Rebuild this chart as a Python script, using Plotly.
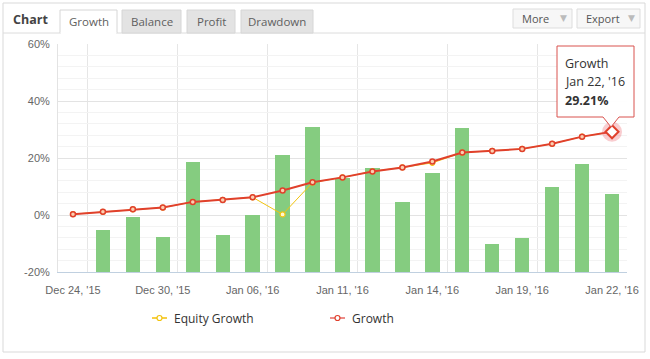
import plotly.graph_objects as go

# ---------------- data ----------------
dates = ["Dec 24, '15", "Dec 28, '15", "Dec 29, '15", "Dec 30, '15", "Jan 04, '16",
         "Jan 05, '16", "Jan 06, '16", "Jan 07, '16", "Jan 08, '16", "Jan 11, '16",
         "Jan 12, '16", "Jan 13, '16", "Jan 14, '16", "Jan 15, '16", "Jan 18, '16",
         "Jan 19, '16", "Jan 20, '16", "Jan 21, '16", "Jan 22, '16"]
growth = [0.3, 1.1, 2.0, 2.6, 4.6, 5.3, 6.2, 8.6, 11.5, 13.2, 15.3, 16.7,
          18.8, 21.9, 22.5, 23.2, 25.0, 27.5, 29.21]
equity_growth = [0.3, 1.1, 2.0, 2.6, 4.6, 5.3, 6.2, 0.2, 11.4, 13.2, 15.3, 16.7,
                 18.3, 21.9, 22.5, 23.2, 25.0, 27.5, 29.21]
bar_dates = dates[1:]
bar_values = [-5.4, -0.8, -7.8, 18.5, -7.1, 0.1, 20.9, 30.8, 12.9, 16.4, 4.5,
              14.6, 30.4, -10.3, -8.2, 9.7, 17.8, 7.3]
tick_labels = ["Dec 24, '15", "Dec 30, '15", "Jan 06, '16", "Jan 11, '16",
               "Jan 14, '16", "Jan 19, '16", "Jan 22, '16"]
y_ticks = [-20, 0, 20, 40, 60]

BAR_BASE = -20
W, H = 650, 359
L, R, T, B = 58, 23, 44, 87
PW, PH = W - L - R, H - T - B

def px(x):
    return (x - L) / PW

def py(y):
    return (H - B - y) / PH

xi = {d: i for i, d in enumerate(dates)}

fig = go.Figure()

fig.add_trace(go.Bar(
    x=[xi[d] for d in bar_dates], y=[v - BAR_BASE for v in bar_values], base=BAR_BASE,
    width=0.48, marker=dict(color="#85cc80", line=dict(width=0)),
    showlegend=False, hoverinfo="skip"))

fig.add_trace(go.Scatter(
    x=[xi[d] for d in dates], y=equity_growth, mode="lines+markers",
    line=dict(color="#f2c40f", width=1),
    marker=dict(size=5, color="#fff7d0", line=dict(color="#f2c40f", width=1.2)),
    name="Equity Growth", showlegend=False, hoverinfo="skip"))

fig.add_trace(go.Scatter(
    x=[xi[d] for d in dates], y=growth, mode="lines+markers",
    line=dict(color="#e0402c", width=2),
    marker=dict(size=5, color="#fbd0b0", line=dict(color="#e0402c", width=1.5)),
    name="Growth", showlegend=False, hoverinfo="skip"))

# highlighted last point (halo + diamond)
fig.add_trace(go.Scatter(
    x=[xi[dates[-1]]], y=[growth[-1]], mode="markers",
    marker=dict(size=20, color="rgba(235,90,100,0.30)"),
    showlegend=False, hoverinfo="skip"))
fig.add_trace(go.Scatter(
    x=[xi[dates[-1]]], y=[growth[-1]], mode="markers",
    marker=dict(symbol="diamond", size=10, color="white", line=dict(color="#e0402c", width=2)),
    showlegend=False, hoverinfo="skip"))

shapes = []
annotations = []

# outer frame
shapes.append(dict(type="rect", xref="paper", yref="paper", x0=px(3), x1=px(645), y0=py(3), y1=py(352),
                   line=dict(color="#d9d9d9", width=1), fillcolor="rgba(0,0,0,0)", layer="below"))
# line under tabs
shapes.append(dict(type="line", xref="paper", yref="paper", x0=px(3), x1=px(645), y0=py(33), y1=py(33),
                   line=dict(color="#dcdcdc", width=1)))

# tabs
tabs = [("Growth", 60, 117, True), ("Balance", 122, 181, False),
        ("Profit", 187, 235, False), ("Drawdown", 241, 313, False)]
for name, x0, x1, active in tabs:
    shapes.append(dict(type="rect", xref="paper", yref="paper", x0=px(x0), x1=px(x1), y0=py(10), y1=py(33),
                       line=dict(color="#d6d6d6", width=1),
                       fillcolor="#ffffff" if active else "#e3e3e3"))
    if active:
        shapes.append(dict(type="line", xref="paper", yref="paper", x0=px(x0 + 0.5), x1=px(x1 - 0.5),
                           y0=py(33), y1=py(33), line=dict(color="#ffffff", width=2)))
    annotations.append(dict(xref="paper", yref="paper", x=px((x0 + x1) / 2), y=py(21.5), text=name,
                            showarrow=False, xanchor="center", yanchor="middle",
                            font=dict(family="Open Sans, DejaVu Sans", size=11.5, color="#606060")))
annotations.append(dict(xref="paper", yref="paper", x=px(11), y=py(19.5), text="<b>Chart</b>",
                        showarrow=False, xanchor="left", yanchor="middle",
                        font=dict(family="Open Sans, DejaVu Sans", size=12.5, color="#444444")))

# buttons
for name, x0, x1 in [("More", 513, 572), ("Export", 577, 640)]:
    shapes.append(dict(type="rect", xref="paper", yref="paper", x0=px(x0), x1=px(x1), y0=py(9), y1=py(28),
                       line=dict(color="#dddddd", width=1), fillcolor="#f7f7f7"))
    annotations.append(dict(xref="paper", yref="paper", x=px(x0 + 7), y=py(18.5), text=name,
                            showarrow=False, xanchor="left", yanchor="middle",
                            font=dict(family="Open Sans, DejaVu Sans", size=11, color="#555555")))
    annotations.append(dict(xref="paper", yref="paper", x=px(x1 - 9), y=py(18.5), text="▼",
                            showarrow=False, xanchor="center", yanchor="middle",
                            font=dict(family="DejaVu Sans", size=9, color="#bbbbbb")))

# tooltip box with pointer
bx0, bx1, by0, by1 = 557, 634, 46, 117
tip_x, tip_y = 611, 127
path = (f"M {px(bx0)},{py(by0)} L {px(bx1)},{py(by0)} L {px(bx1)},{py(by1)} "
        f"L {px(tip_x + 8)},{py(by1)} L {px(tip_x)},{py(tip_y)} L {px(tip_x - 8)},{py(by1)} "
        f"L {px(bx0)},{py(by1)} Z")
shapes.append(dict(type="path", xref="paper", yref="paper", path=path,
                   line=dict(color="#d9534f", width=1), fillcolor="rgba(255,255,255,0.95)"))
for txt, yy in [("Growth", 63), ("Jan 22, '16", 81.5), ("<b>29.21%</b>", 100)]:
    annotations.append(dict(xref="paper", yref="paper", x=px(563), y=py(yy), text=txt,
                            showarrow=False, xanchor="left", yanchor="middle",
                            font=dict(family="Open Sans, DejaVu Sans", size=12.5, color="#333333")))

# custom legend
for name, color, mcolor, x0 in [("Equity Growth", "#f7cf45", "#f2c40f", 152),
                                 ("Growth", "#ec8c88", "#e0402c", 330)]:
    shapes.append(dict(type="line", xref="paper", yref="paper", x0=px(x0), x1=px(x0 + 15),
                       y0=py(318), y1=py(318), line=dict(color=color, width=2)))
    shapes.append(dict(type="circle", xref="paper", yref="paper", x0=px(x0 + 5), x1=px(x0 + 10),
                       y0=py(315.5), y1=py(320.5), line=dict(color=mcolor, width=1.2), fillcolor="#ffffff"))
    annotations.append(dict(xref="paper", yref="paper", x=px(x0 + 20), y=py(318), text=name,
                            showarrow=False, xanchor="left", yanchor="middle",
                            font=dict(family="Open Sans, DejaVu Sans", size=12, color="#333333")))

fig.update_layout(
    width=W, height=H, margin=dict(l=L, r=R, t=T, b=B),
    paper_bgcolor="white", plot_bgcolor="white",
    shapes=shapes, annotations=annotations, showlegend=False,
    bargap=0,
    xaxis=dict(range=[-0.5, 18.5], tickmode="array",
               tickvals=[xi[t] for t in tick_labels], ticktext=tick_labels,
               showgrid=False, zeroline=False,
               showline=True, linecolor="#c0d0e0", linewidth=1,
               ticks="outside", ticklen=8, tickcolor="rgba(0,0,0,0)",
               tickfont=dict(family="Liberation Sans, Arial", size=11, color="#666666"),
               minor=dict(tickmode="array", tickvals=[0.5, 3.5, 6.5, 9.5, 12.5, 15.5],
                          showgrid=True, gridcolor="#e6e6e6", gridwidth=1, ticks="")),
    yaxis=dict(range=[-20, 60], tickmode="array", tickvals=y_ticks,
               ticktext=[f"{v}%" for v in y_ticks],
               showgrid=True, gridcolor="#e3e3e3", gridwidth=1, zeroline=False,
               showline=True, linecolor="#e3e3e3",
               ticks="outside", ticklen=5, tickcolor="rgba(0,0,0,0)",
               tickfont=dict(family="Liberation Sans, Arial", size=11, color="#666666"),
               minor=dict(dtick=4, tick0=0, showgrid=True, gridcolor="#f3f3f3", ticks="")),
)

fig.write_html("out.html", config={"displayModeBar": False},
               post_script="document.body.style.margin='0px';")
